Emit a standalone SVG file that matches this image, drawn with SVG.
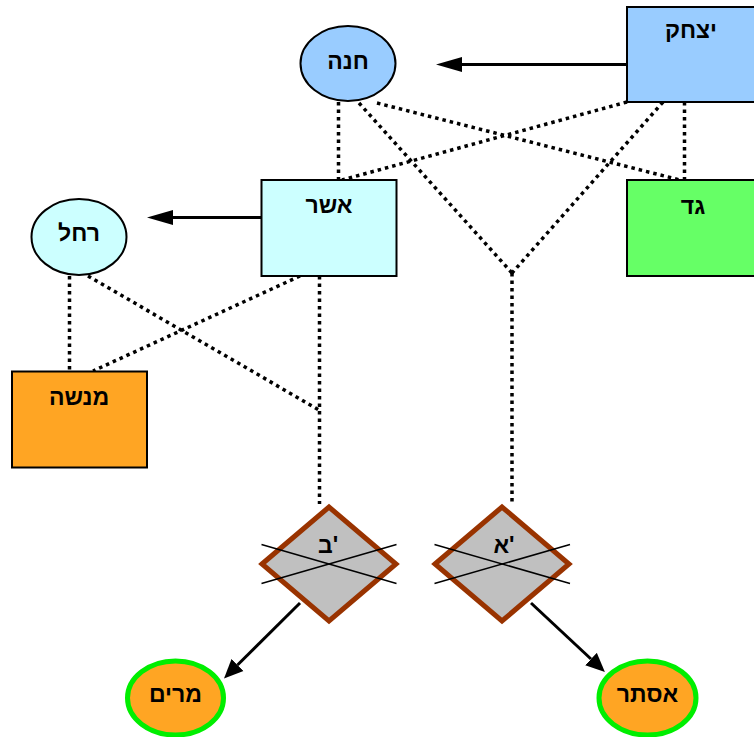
<svg xmlns="http://www.w3.org/2000/svg" width="754" height="737" viewBox="0 0 754 737">
<style>
text{font-family:"Liberation Sans","DejaVu Sans",sans-serif;font-weight:bold;font-size:23px;fill:#000;text-anchor:middle}
.box{stroke:#000;stroke-width:2}
.dot{stroke:#000;stroke-width:3.5;stroke-dasharray:3.5 4;fill:none}
.sol{stroke:#000;stroke-width:3;fill:none}
.dia{fill:#C0C0C0;stroke:#993300;stroke-width:5;stroke-linejoin:miter}
.x{stroke:#000;stroke-width:1.5}
.kid{fill:#FFA523;stroke:#00EE00;stroke-width:5}
</style>
<defs>
<marker id="arr" markerUnits="userSpaceOnUse" markerWidth="26" markerHeight="16" refX="0" refY="8" orient="auto">
<polygon points="0,0.5 26,8 0,15.5" fill="#000"/>
</marker>
<marker id="arr2" markerUnits="userSpaceOnUse" markerWidth="19" markerHeight="18" refX="0" refY="9" orient="auto">
<polygon points="0,0.5 19,9 0,17.5" fill="#000"/>
</marker>
</defs>
<g id="connectors">
<line class="dot" x1="338.5" y1="102" x2="338.5" y2="180"/>
<line class="dot" x1="377" y1="103" x2="680" y2="180"/>
<line class="dot" x1="359" y1="103" x2="512" y2="273"/>
<line class="dot" x1="663" y1="102" x2="512" y2="273"/>
<line class="dot" x1="627" y1="102" x2="342" y2="180"/>
<line class="dot" x1="684.5" y1="102" x2="684.5" y2="180"/>
<line class="dot" x1="512" y1="273" x2="512" y2="504"/>
<line class="dot" x1="319.5" y1="276" x2="319.5" y2="504"/>
<line class="dot" x1="300" y1="276" x2="93" y2="371"/>
<line class="dot" x1="69.5" y1="276" x2="69.5" y2="371"/>
<line class="dot" x1="88" y1="276" x2="319" y2="410"/>
<line class="sol" x1="627" y1="64.5" x2="462" y2="64.5" marker-end="url(#arr)"/>
<line class="sol" x1="261" y1="217.5" x2="173" y2="217.5" marker-end="url(#arr)"/>
<line class="sol" x1="300" y1="603" x2="237.5" y2="665" marker-end="url(#arr2)"/>
<line class="sol" x1="531" y1="603" x2="591" y2="659" marker-end="url(#arr2)"/>
</g>
<g id="hana">
<ellipse class="box" cx="348" cy="63.5" rx="47.5" ry="37.5" fill="#99CCFF"/>
<text x="348" y="69">חנה</text>
</g>
<g id="yitzhak">
<rect class="box" x="627" y="7" width="134" height="95" fill="#99CCFF"/>
<text x="691" y="38">יצחק</text>
</g>
<g id="asher">
<rect class="box" x="261.5" y="180" width="135" height="96" fill="#CCFFFF"/>
<text x="329" y="213">אשר</text>
</g>
<g id="gad">
<rect class="box" x="627" y="180" width="134" height="96" fill="#66FF66"/>
<text x="693" y="214">גד</text>
</g>
<g id="rachel">
<ellipse class="box" cx="79" cy="237" rx="47.5" ry="38" fill="#CCFFFF"/>
<text x="79" y="241">רחל</text>
</g>
<g id="menashe">
<rect class="box" x="12" y="371.5" width="135" height="96" fill="#FFA523"/>
<text x="79" y="405">מנשה</text>
</g>
<g id="bet">
<polygon class="dia" points="262,564 329,507 396,564 329,621"/>
<line class="x" x1="261.5" y1="544.5" x2="396.5" y2="583.5"/>
<line class="x" x1="261.5" y1="583.5" x2="396.5" y2="544.5"/>
<text x="328" y="553">ב'</text>
</g>
<g id="alef">
<polygon class="dia" points="435,564 502,507 569,564 502,621"/>
<line class="x" x1="434.5" y1="544.5" x2="570" y2="583.5"/>
<line class="x" x1="434.5" y1="583.5" x2="570" y2="544.5"/>
<text x="504" y="553">א'</text>
</g>
<g id="miriam">
<ellipse class="kid" cx="175.5" cy="698" rx="48" ry="37"/>
<text x="175.5" y="702">מרים</text>
</g>
<g id="ester">
<ellipse class="kid" cx="647.5" cy="698" rx="48.5" ry="37"/>
<text x="647.5" y="702">אסתר</text>
</g>
</svg>
